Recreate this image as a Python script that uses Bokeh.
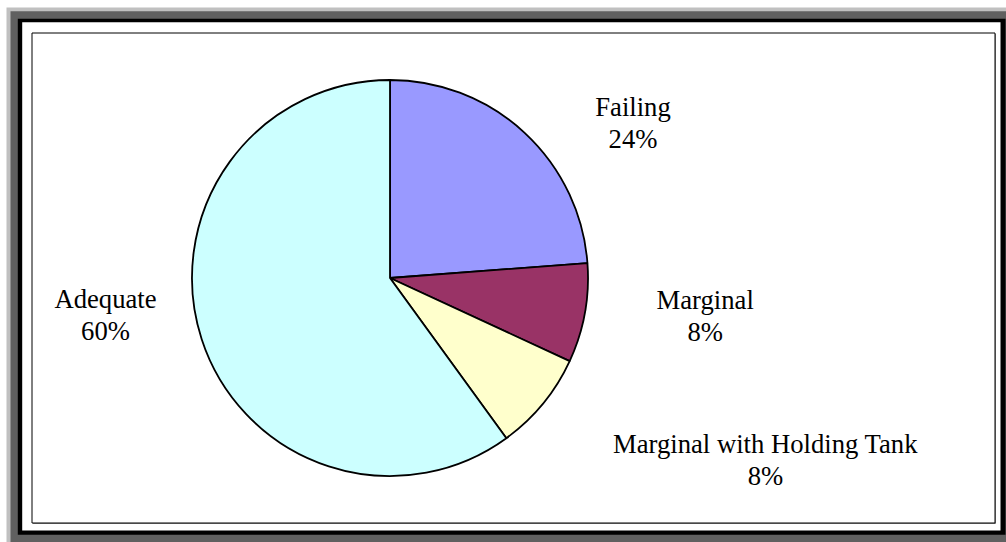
import numpy as np
from bokeh.plotting import figure
from bokeh.models import Range1d, ColumnDataSource
from bokeh.core.properties import value
from bokeh.embed import file_html
from bokeh.resources import INLINE

# ---- data ----
categories = ["Failing", "Marginal", "Marginal with Holding Tank", "Adequate"]
shares = [23.8, 8.1, 8.1, 60.0]
colors = ["#9999FF", "#993366", "#FFFFCC", "#CCFFFF"]

# ---- layout (screen pixels) ----
label_anchor = [(632.5, 106.7), (704.7, 299.3), (765.0, 443.3), (105.0, 298.3)]
line_gap = 31.7
cx, cy, radius = 389.5, 277.5, 198

W, H = 1006, 542
p = figure(width=W, height=H, output_backend="svg", toolbar_location=None,
           x_range=Range1d(0, W), y_range=Range1d(-H, 0),
           x_axis_location=None, y_axis_location=None, min_border=0)
p.grid.visible = False
p.outline_line_color = None
p.background_fill_color = "white"
p.border_fill_color = "white"


def box(l, t, r, b, **kw):
    p.quad(left=l, right=r, top=-t, bottom=-b, **kw)


# chart area frame (3D style border)
box(6, 7, 1006, 542, fill_color="#C0C0C0", line_color=None)
box(10, 10.7, 1006, 542, fill_color="#606060", line_color=None)
box(17.3, 18.3, 1005, 534.3, fill_color="#000000", line_color=None)
box(21.7, 21.7, 1000, 530, fill_color="#FFFFFF", line_color=None)
# plot area with shadow
box(32.5, 33.5, 995.5, 523.5, fill_color="#909090", line_color=None)
box(31.5, 32.5, 994.5, 522.5, fill_color="#FFFFFF", line_color="#000000", line_width=1)

# pie
vals = np.array(shares, dtype=float)
frac = vals / vals.sum()
cum = np.concatenate([[0.0], np.cumsum(frac)])
start = np.pi / 2 - 2 * np.pi * cum[:-1]
end = np.pi / 2 - 2 * np.pi * cum[1:]
src = ColumnDataSource(dict(x=[cx] * len(vals), y=[-cy] * len(vals),
                            start=start, end=end, color=colors, cat=categories))
p.wedge(x="x", y="y", radius=radius, start_angle="start", end_angle="end",
        direction="clock", fill_color="color", line_color="#000000",
        line_width=1.8, source=src)

# labels
pct = [f"{int(round(f * 100))}%" for f in frac]
lx = [a[0] for a in label_anchor]
ly1 = [-a[1] for a in label_anchor]
ly2 = [-(a[1] + line_gap) for a in label_anchor]
for ys, texts in ((ly1, categories), (ly2, pct)):
    p.text(x=lx, y=ys, text=texts, text_align="center", text_baseline="alphabetic",
           text_font=value("Liberation Serif"), text_font_size="20pt",
           text_color="#000000")

open("out.html", "w").write(file_html(p, INLINE))
